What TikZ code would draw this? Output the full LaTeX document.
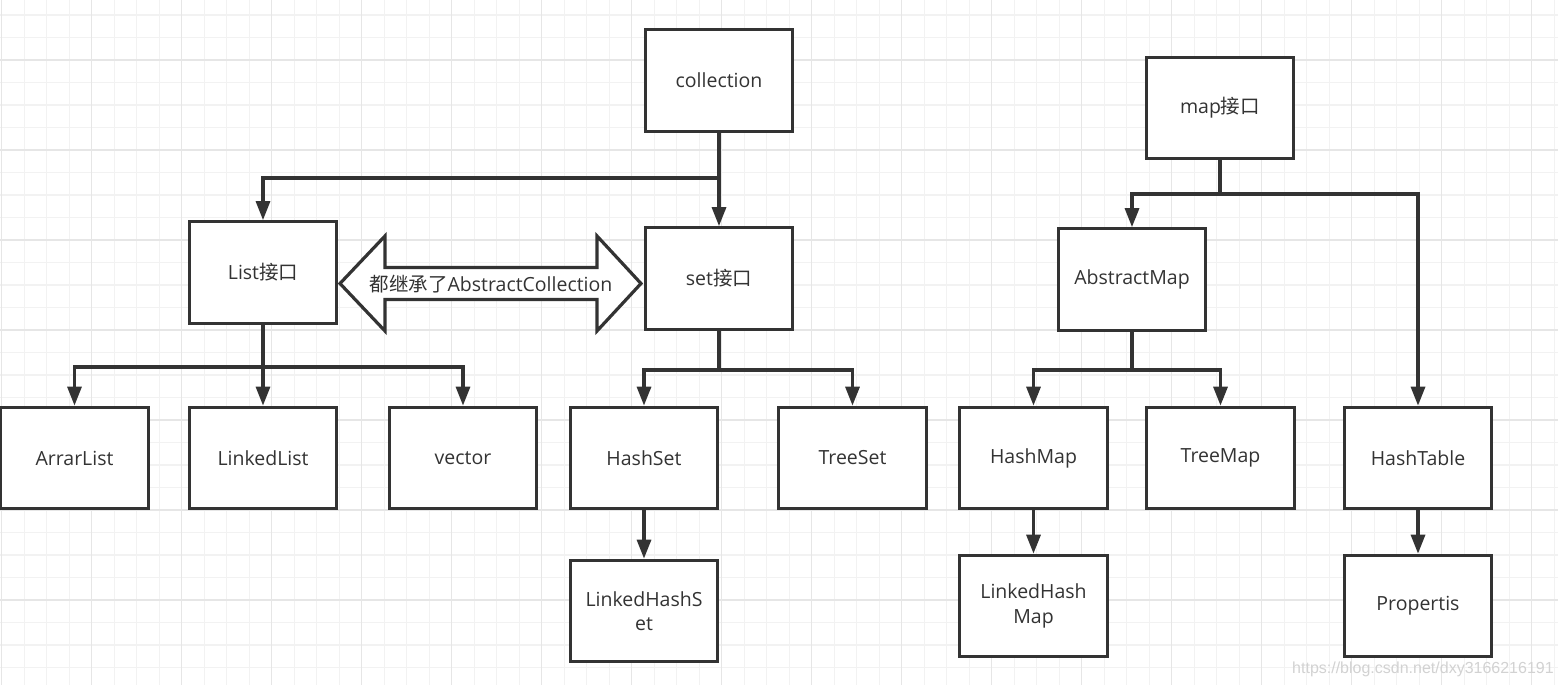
\documentclass[tikz,border=0pt]{standalone}
\usepackage{fontspec}
\setmainfont{Open Sans}
\newfontfamily\cjk{Noto Sans CJK SC}
\newfontfamily\wmfont{Liberation Sans}
\usetikzlibrary{arrows.meta}
\definecolor{ink}{HTML}{333333}
\definecolor{gridminor}{HTML}{F2F2F2}
\definecolor{gridmajor}{HTML}{E6E6E6}
\definecolor{wmgray}{HTML}{D2D2D2}
\tikzset{
  box/.style={draw=ink, line width=3.2pt, fill=white, minimum width=147.5pt, minimum height=101.5pt,
    inner sep=0pt, align=center, text=ink, font=\fontsize{19.5}{24.5}\selectfont},
  conn/.style={draw=ink, line width=3.2pt},
  arr/.style={conn, -{Triangle[length=19pt,width=14pt]}},
  gminor/.style={draw=gridminor, line width=1.1pt},
  gmajor/.style={draw=gridmajor, line width=1.2pt}
}
\begin{document}
\begin{tikzpicture}[x=1pt,y=-1pt]
\useasboundingbox (0,0) rectangle (1558,685);
\fill[white] (0,0) rectangle (1558,685);
% grid
\foreach \i in {0,...,69} \draw[gminor] ({1.8+22.5*\i},0) -- ({1.8+22.5*\i},685);
\foreach \j in {0,...,30} \draw[gminor] (0,{15+22.5*\j}) -- (1558,{15+22.5*\j});
\foreach \i in {0,...,17} \draw[gmajor] ({1.8+90*\i},0) -- ({1.8+90*\i},685);
\foreach \j in {0,...,7} \draw[gmajor] (0,{60+90*\j}) -- (1558,{60+90*\j});

% nodes
\node[box] (collection) at (719,80.5) {collection};
\node[box] (list) at (263,272.5) {List{\cjk 接口}};
\node[box] (set) at (719,278.5) {set{\cjk 接口}};
\node[box] (arrarlist) at (74.5,458) {ArrarList};
\node[box] (linkedlist) at (263,458) {LinkedList};
\node[box] (vector) at (463,458) {vector};
\node[box] (hashset) at (644,458) {HashSet};
\node[box] (treeset) at (852.5,458) {TreeSet};
\node[box] (linkedhashset) at (644,611) {LinkedHashS\\et};
\node[box] (map) at (1220,108) {map{\cjk 接口}};
\node[box] (abstractmap) at (1132,279.5) {AbstractMap};
\node[box] (hashmap) at (1033.5,458) {HashMap};
\node[box] (treemap) at (1220.5,458) {TreeMap};
\node[box] (hashtable) at (1418,458) {HashTable};
\node[box] (linkedhashmap) at (1033.5,606) {LinkedHash\\Map};
\node[box] (propertis) at (1418,606) {Propertis};

% junctions
\coordinate (jc) at (719,178);
\coordinate (jl) at (263,367);
\coordinate (js) at (719,370);
\coordinate (jm) at (1220,194);
\coordinate (ja) at (1132,370);

\draw[conn] (collection.south) -- (jc);
\draw[arr] (jc) -| (list.north);
\draw[arr] (jc) -- (set.north);

\draw[conn] (list.south) -- (jl);
\draw[arr] (jl) -| (arrarlist.north);
\draw[arr] (jl) -- (linkedlist.north);
\draw[arr] (jl) -| (vector.north);

\draw[conn] (set.south) -- (js);
\draw[arr] (js) -| (hashset.north);
\draw[arr] (js) -| (treeset.north);
\draw[arr] (hashset.south) -- (linkedhashset.north);

\draw[conn] (map.south) -- (jm);
\draw[arr] (jm) -| (abstractmap.north);
\draw[arr] (jm) -| (hashtable.north);

\draw[conn] (abstractmap.south) -- (ja);
\draw[arr] (ja) -| (hashmap.north);
\draw[arr] (ja) -| (treemap.north);
\draw[arr] (hashmap.south) -- (linkedhashmap.north);
\draw[arr] (hashtable.south) -- (propertis.north);

% double arrow between List and set
\draw[draw=ink, line width=3.2pt, fill=white, line join=miter]
  (340,283.5) -- (385,236) -- (385,267.5) -- (597,267.5) -- (597,236) -- (641,283.5)
  -- (597,331) -- (597,299.5) -- (385,299.5) -- (385,331) -- cycle;
\node[text=ink, font=\fontsize{19.5}{23}\selectfont, inner sep=0pt] (inherit) at (491,284.5) {{\cjk 都继承了}AbstractCollection};

% watermark
\node[anchor=base west, text=wmgray, font=\wmfont\fontsize{16}{18}\selectfont, inner sep=0pt] (wm) at (1292,673) {https://blog.csdn.net/dxy3166216191};
\end{tikzpicture}
\end{document}
